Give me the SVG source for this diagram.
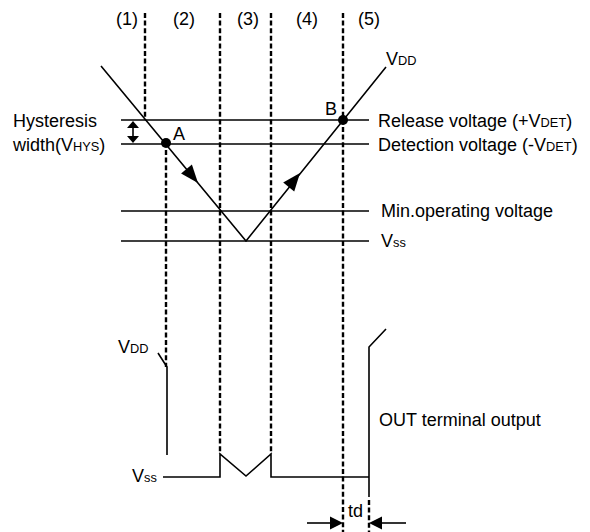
<svg xmlns="http://www.w3.org/2000/svg" width="590" height="532" viewBox="0 0 590 532">
<style>
.s{stroke:#000;stroke-width:1.6;fill:none}
.d{stroke:#000;stroke-width:2.4;fill:none;stroke-dasharray:5 2.6}
.t{font-family:"Liberation Sans",Arial,sans-serif;font-size:18px;fill:#000}
.sm{font-size:12.8px}
.ah{fill:#000;stroke:none}
</style>
<rect width="590" height="532" fill="#fff"/>
<g id="phase-labels">
<text class="t" x="116" y="25">(1)</text>
<text class="t" x="173" y="25">(2)</text>
<text class="t" x="237" y="25">(3)</text>
<text class="t" x="296" y="25">(4)</text>
<text class="t" x="358" y="25">(5)</text>
</g>
<g id="dashed-lines">
<line class="d" x1="145" y1="13" x2="145" y2="120"/>
<line class="d" x1="166" y1="150" x2="166" y2="367"/>
<line class="d" x1="220" y1="13" x2="220" y2="454"/>
<line class="d" x1="271" y1="13" x2="271" y2="454"/>
<line class="d" x1="343" y1="13" x2="343" y2="532"/>
<line class="d" x1="369" y1="500" x2="369" y2="532"/>
</g>
<g id="levels">
<line class="s" x1="121" y1="120" x2="369" y2="120"/>
<line class="s" x1="121" y1="144" x2="369" y2="144"/>
<line class="s" x1="121" y1="211" x2="369" y2="211"/>
<line class="s" x1="121" y1="241" x2="369" y2="241"/>
<text class="t" x="378" y="127">Release voltage (+V<tspan class="sm">DET</tspan>)</text>
<text class="t" x="378" y="151">Detection voltage (-V<tspan class="sm">DET</tspan>)</text>
<text class="t" x="381" y="217">Min.operating voltage</text>
<text class="t" x="381" y="247">V<tspan class="sm">ss</tspan></text>
</g>
<g id="hysteresis">
<text class="t" x="13" y="127">Hysteresis</text>
<text class="t" x="13" y="151">width(V<tspan class="sm">HYS</tspan>)</text>
<line class="s" x1="133" y1="124" x2="133" y2="140"/>
<polygon class="ah" points="133,121 127,128 139,128"/>
<polygon class="ah" points="133,143 127,136 139,136"/>
</g>
<g id="vdd-curve">
<polyline class="s" points="101,66 246,241 386,67"/>
<polygon class="ah" points="198,183 191.9,164.6 181.1,173.6"/>
<polygon class="ah" points="300,173 294.2,191.4 283.2,182.6"/>
<text class="t" x="386" y="65">V<tspan class="sm">DD</tspan></text>
</g>
<g id="point-a">
<circle cx="166" cy="143" r="5"/>
<text class="t" x="173" y="140">A</text>
</g>
<g id="point-b">
<circle cx="343" cy="120" r="5"/>
<text class="t" x="325" y="115">B</text>
</g>
<g id="output">
<polyline class="s" points="158,353 167,367 167,455"/>
<polyline class="s" points="163,477 220,477 220,454 246,476 271,454 271,477 369,477"/>
<polyline class="s" points="369,497 369,347 386,329"/>
<text class="t" x="118" y="353">V<tspan class="sm">DD</tspan></text>
<text class="t" x="132" y="482">V<tspan class="sm">ss</tspan></text>
<text class="t" x="379" y="426">OUT terminal output</text>
</g>
<g id="td">
<line class="s" x1="307" y1="523" x2="335" y2="523"/>
<polygon class="ah" points="343,523 330,516.5 330,529.5"/>
<line class="s" x1="377" y1="523" x2="406" y2="523"/>
<polygon class="ah" points="369,523 382,516.5 382,529.5"/>
<text class="t" x="348" y="517">td</text>
</g>
</svg>
